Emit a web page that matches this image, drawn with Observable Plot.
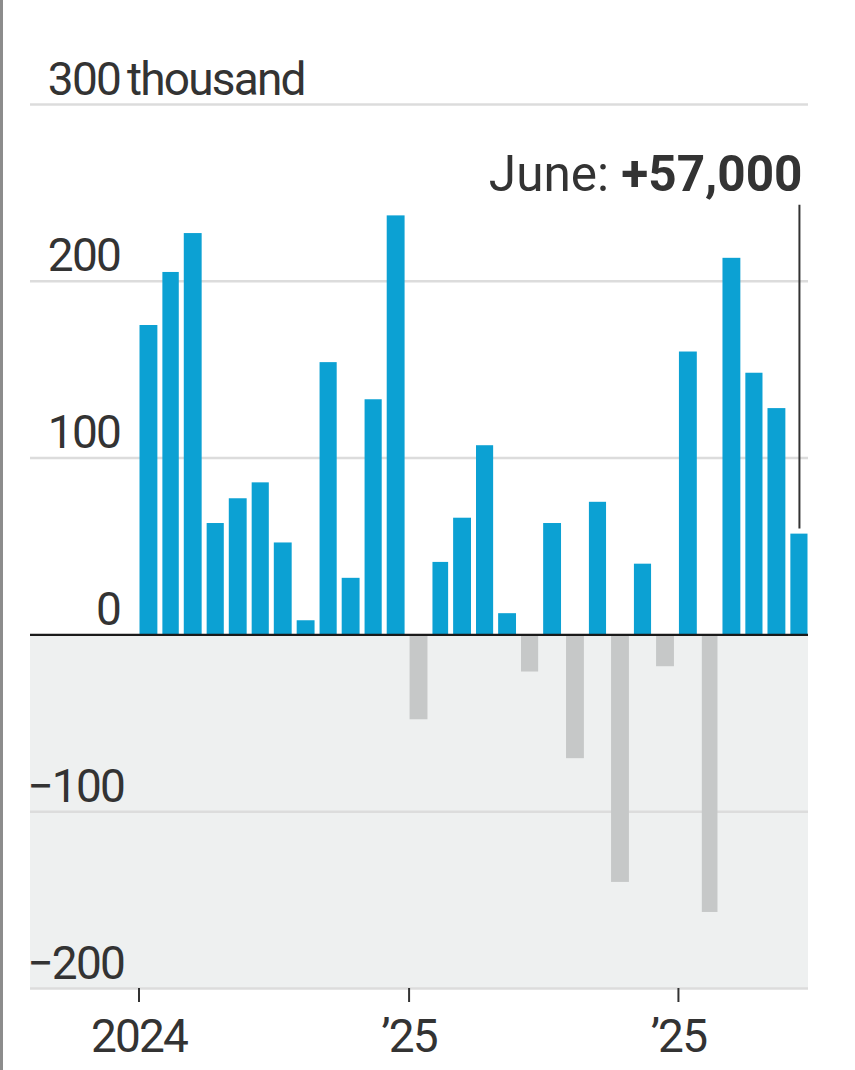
<!DOCTYPE html>
<html>
<head>
<meta charset="utf-8">
<script src="https://cdn.jsdelivr.net/npm/d3@7"></script>
<script src="https://cdn.jsdelivr.net/npm/@observablehq/plot@0.6"></script>
<style>
  html, body { margin: 0; padding: 0; background: #fff; }
  #wrap { position: relative; width: 855px; height: 1070px; overflow: hidden; }
  #edge { position: absolute; left: 0; top: 0; width: 3px; height: 1070px; background: #8c8c8c; }
  svg text { letter-spacing: -1.8px; }
  svg .annot text { letter-spacing: 0; }
</style>
</head>
<body>
<div id="wrap"><div id="edge"></div></div>
<script>
// ---- data ----
const months = [
  "2024-01","2024-02","2024-03","2024-04","2024-05","2024-06",
  "2024-07","2024-08","2024-09","2024-10","2024-11","2024-12",
  "2025-01","2025-02","2025-03","2025-04","2025-05","2025-06",
  "2025-07","2025-08","2025-09","2025-10","2025-11","2025-12",
  "2026-01","2026-02","2026-03","2026-04","2026-05","2026-06"
];
// monthly change, thousands
const values = [
  175, 205, 227, 63, 77, 86, 52, 8, 154, 32, 133, 237,
  -48, 41, 66, 107, 12, -21, 63, -70, 75, -140, 40, -18,
  160, -157, 213, 148, 128, 57
];
const yTicks = [-200, -100, 0, 100, 200, 300];
const yTickLabels = ["\u2212200", "\u2212100", "0", "100", "200", "300"];
const yUnit = "thousand";
const xTickDates = ["2024-01", "2025-01", "2026-01"];
const xTickLabels = ["2024", "\u201925", "\u201925"];
const annotMonth = "June";
const annotValue = "+57,000";
const annotLevel = 243; // label level, thousands

// ---- derived table ----
const parse = d3.utcParse("%Y-%m");
const data = months.map((m, i) => {
  const d0 = parse(m);
  const d1 = d3.utcMonth.offset(d0, 1);
  return { x1: d0, x2: d1, mid: new Date((+d0 + +d1) / 2), value: values[i] };
});
const last = data[data.length - 1];
const xTicks = xTickDates.map(parse);
const xLabel = d => xTickLabels[xTicks.findIndex(t => +t === +d)];
const yLabel = d => yTickLabels[yTicks.indexOf(d)];

const BLUE = "#0ca1d3";
const GRAY = "#c6c8c8";
const BG = "#eef0f0";
const GRID = "#dcdcdc";
const INK = "#333333";

const chart = Plot.plot({
  width: 855,
  height: 1070,
  marginLeft: 138.5,
  marginRight: 43.5,
  marginTop: 104,
  marginBottom: 82,
  x: { type: "utc", domain: [data[0].x1, last.x2] },
  y: { domain: [yTicks[0], yTicks[yTicks.length - 1]], axis: null },
  color: { type: "identity" },
  style: { fontFamily: "Roboto, 'Liberation Sans', sans-serif", fontSize: "46px", color: INK, background: "transparent" },
  marks: [
    Plot.rect([0], { y1: yTicks[0], y2: 0, fill: BG, insetLeft: -108.5, insetRight: 3.5 }),
    Plot.ruleY(yTicks.filter(d => d !== 0), { stroke: GRID, strokeWidth: 2.5, insetLeft: -108.5, insetRight: 3.5 }),
    Plot.rect(data, {
      x1: "x1", x2: "x2", y1: 0, y2: "value",
      fill: d => d.value < 0 ? GRAY : BLUE,
      insetLeft: 1, insetRight: 4
    }),
    Plot.ruleY([0], { stroke: "#1a1a1a", strokeWidth: 2.2, insetLeft: -108.5, insetRight: 3.5 }),
    // y tick labels (non-negative)
    Plot.text(yTicks.filter(d => d >= 0), {
      y: d => d, text: yLabel,
      frameAnchor: "left", textAnchor: "end", lineAnchor: "bottom",
      dx: -19, dy: -10, fill: INK, fontSize: 46
    }),
    // y tick labels (negative)
    Plot.text(yTicks.filter(d => d < 0), {
      y: d => d, text: yLabel,
      frameAnchor: "left", textAnchor: "end", lineAnchor: "bottom",
      dx: -15, dy: -10, fill: INK, fontSize: 46
    }),
    Plot.text([yTicks[yTicks.length - 1]], {
      y: d => d, text: () => yUnit,
      frameAnchor: "left", textAnchor: "start", lineAnchor: "bottom",
      dx: -12, dy: -10, fill: INK, fontSize: 46
    }),
    // x axis
    Plot.axisX(xTicks, {
      tickFormat: xLabel, tickSize: 14, tickPadding: 17,
      stroke: INK, strokeWidth: 2, fill: INK, fontSize: 46, fontFamily: "Roboto"
    }),
    // annotation
    Plot.ruleX([last], {
      x: "mid", y1: () => annotLevel, y2: "value",
      stroke: INK, strokeWidth: 2, dx: -1.5, insetBottom: 5
    }),
    Plot.text([last], {
      x: "mid", y: () => annotLevel, text: () => `${annotMonth}: ${annotValue}`,
      textAnchor: "end", lineAnchor: "bottom", dx: 1.5, dy: -14,
      fill: INK, fontSize: 49.5, className: "annot"
    })
  ]
});

// mixed weight for annotation
const at = chart.querySelector(".annot text");
if (at) {
  at.textContent = "";
  const ns = "http://www.w3.org/2000/svg";
  const t1 = document.createElementNS(ns, "tspan");
  t1.textContent = annotMonth + ": ";
  const t2 = document.createElementNS(ns, "tspan");
  t2.setAttribute("font-weight", "bold");
  t2.textContent = annotValue;
  at.appendChild(t1);
  at.appendChild(t2);
}

document.getElementById("wrap").appendChild(chart);
</script>
</body>
</html>
